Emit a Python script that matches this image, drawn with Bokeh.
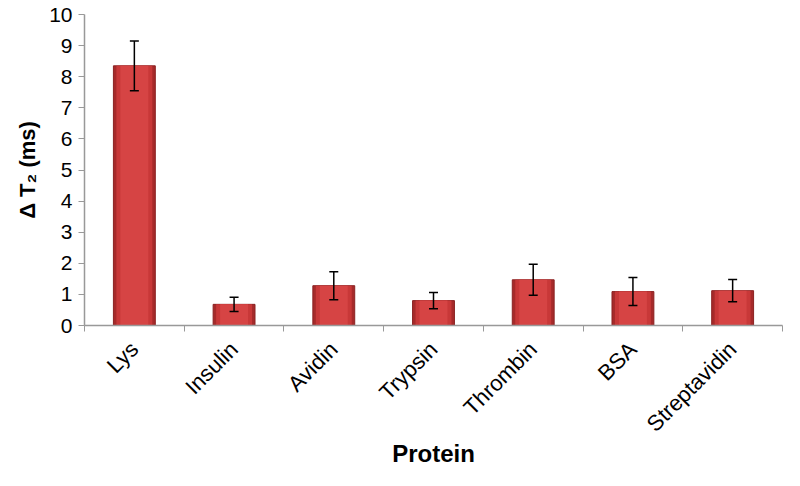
import math
from bokeh.plotting import figure
from bokeh.models import ColumnDataSource, FixedTicker, Whisker, TeeHead, Range1d
from bokeh.embed import file_html
from bokeh.resources import INLINE

proteins = ["Lys", "Insulin", "Avidin", "Trypsin", "Thrombin", "BSA", "Streptavidin"]
delta_t2 = [8.35, 0.68, 1.28, 0.80, 1.47, 1.09, 1.12]
errors = [0.80, 0.23, 0.45, 0.26, 0.50, 0.45, 0.36]
y_ticks = [0, 1, 2, 3, 4, 5, 6, 7, 8, 9, 10]

xs = [i + 0.5 for i in range(len(proteins))]
src = ColumnDataSource(dict(
    x=xs, y=delta_t2,
    upper=[v + e for v, e in zip(delta_t2, errors)],
    lower=[v - e for v, e in zip(delta_t2, errors)],
))

p = figure(width=784, height=470, output_backend="svg", toolbar_location=None,
           x_range=Range1d(0, len(proteins)), y_range=Range1d(0, 10),
           min_border_left=84, min_border_right=2, min_border_top=14, min_border_bottom=140)
p.outline_line_color = None
p.grid.visible = False
p.background_fill_color = "white"

# bars with a faux gradient (darker edges, lighter center)
p.vbar(x="x", top="y", width=0.42, bottom=0, source=src,
       fill_color="#a62a2a", line_color="#8a2222", line_width=1)
p.vbar(x="x", top="y", width=0.36, bottom=0, source=src,
       fill_color="#c83838", line_color=None)
p.vbar(x="x", top="y", width=0.28, bottom=0, source=src,
       fill_color="#d64444", line_color=None)

w = Whisker(base="x", upper="upper", lower="lower", source=src,
            line_color="black", line_width=1.5, level="overlay",
            upper_head=TeeHead(size=9, line_color="black", line_width=1.5),
            lower_head=TeeHead(size=9, line_color="black", line_width=1.5))
p.add_layout(w)

font = "Liberation Sans"
# x axis: labels at category centers, ticks at boundaries (minor ticks)
p.xaxis.ticker = FixedTicker(ticks=xs, minor_ticks=list(range(len(proteins) + 1)))
p.xaxis.major_label_overrides = {x: name for x, name in zip(xs, proteins)}
p.xaxis.major_tick_out = 0
p.xaxis.major_tick_in = 0
p.xaxis.minor_tick_out = 6
p.xaxis.minor_tick_in = 0
p.xaxis.minor_tick_line_color = "#999999"
p.xaxis.axis_line_color = "#999999"
p.xaxis.axis_line_width = 1.5
p.xaxis.major_label_orientation = math.pi / 4
p.xaxis.major_label_text_font = font
p.xaxis.major_label_text_font_size = "22px"
p.xaxis.major_label_text_color = "black"
p.xaxis.major_label_standoff = 14
p.xaxis.axis_label = "Protein"
p.xaxis.axis_label_text_font = font
p.xaxis.axis_label_text_font_size = "24px"
p.xaxis.axis_label_text_font_style = "bold"
p.xaxis.axis_label_text_color = "black"
p.xaxis.axis_label_standoff = -8

p.yaxis.ticker = FixedTicker(ticks=y_ticks)
p.yaxis.major_tick_out = 6
p.yaxis.major_tick_in = 0
p.yaxis.minor_tick_line_color = None
p.yaxis.major_tick_line_color = "#999999"
p.yaxis.axis_line_color = "#999999"
p.yaxis.axis_line_width = 1.5
p.yaxis.major_label_text_font = font
p.yaxis.major_label_text_font_size = "21px"
p.yaxis.major_label_text_color = "black"
p.yaxis.major_label_standoff = 6
p.yaxis.axis_label = "Δ T₂ (ms)"
p.yaxis.axis_label_text_font = font
p.yaxis.axis_label_text_font_size = "22px"
p.yaxis.axis_label_text_font_style = "bold"
p.yaxis.axis_label_text_color = "black"
p.yaxis.axis_label_standoff = 6

open("out.html", "w").write(file_html(p, INLINE))
